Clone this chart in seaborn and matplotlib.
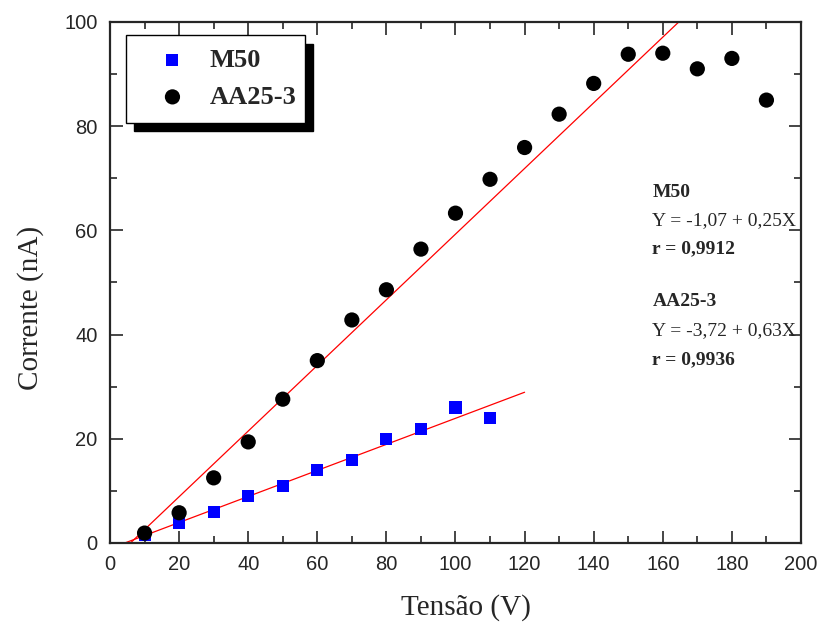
import matplotlib
matplotlib.use("Agg")
import matplotlib.pyplot as plt
from matplotlib.patches import Rectangle
from matplotlib.ticker import MultipleLocator
import numpy as np
import pandas as pd
import seaborn as sns

# Measured current vs. applied voltage for two samples
tensao_m50 = [10, 20, 30, 40, 50, 60, 70, 80, 90, 100, 110]
corrente_m50 = [1.5, 3.9, 6.0, 9.0, 11.0, 14.0, 15.9, 20.0, 21.9, 26.0, 23.9]

tensao_aa25 = [10, 20, 30, 40, 50, 60, 70, 80, 90, 100, 110, 120, 130, 140,
               150, 160, 170, 180, 190]
corrente_aa25 = [1.9, 5.8, 12.5, 19.4, 27.6, 35.0, 42.8, 48.6, 56.4, 63.3,
                 69.8, 75.9, 82.3, 88.2, 93.8, 94.0, 91.0, 93.0, 85.0]

# Linear fits (intercept, slope) and correlation coefficients
fit_m50 = (-1.07, 0.25)
fit_aa25 = (-3.72, 0.63)
r_m50 = "0,9912"
r_aa25 = "0,9936"
fit_range_m50 = (0, 120)
fit_range_aa25 = (0, 170)

sns.set_style("ticks")
plt.rcParams["font.family"] = ["Liberation Serif", "DejaVu Serif"]

fig = plt.figure(figsize=(8.26, 6.27), dpi=100)
ax = fig.add_axes([0.1332, 0.134, 0.8365, 0.831])

df_m50 = pd.DataFrame({"Tensão": tensao_m50, "Corrente": corrente_m50})
df_aa25 = pd.DataFrame({"Tensão": tensao_aa25, "Corrente": corrente_aa25})

sns.scatterplot(data=df_m50, x="Tensão", y="Corrente", marker="s", s=75,
                color="#0000ff", edgecolor="none", ax=ax, label="M50", zorder=3)
sns.scatterplot(data=df_aa25, x="Tensão", y="Corrente", marker="o", s=120,
                color="black", edgecolor="none", ax=ax, label="AA25-3", zorder=3)

for (b, a), (x0, x1) in [(fit_m50, fit_range_m50), (fit_aa25, fit_range_aa25)]:
    xs = np.array([x0, x1])
    sns.lineplot(x=xs, y=b + a * xs, color="red", linewidth=0.9, ax=ax,
                 zorder=2, legend=False)

ax.set_xlim(0, 200)
ax.set_ylim(0, 100)
ax.xaxis.set_major_locator(MultipleLocator(20))
ax.xaxis.set_minor_locator(MultipleLocator(10))
ax.yaxis.set_major_locator(MultipleLocator(20))
ax.yaxis.set_minor_locator(MultipleLocator(10))
ax.tick_params(which="both", direction="in", top=True, right=True,
               width=1.2, labelsize=14.5, pad=9)
ax.tick_params(which="major", length=9)
ax.tick_params(which="minor", length=5)
for lbl in ax.get_xticklabels() + ax.get_yticklabels():
    lbl.set_family(["Liberation Sans", "DejaVu Sans"])
for sp in ax.spines.values():
    sp.set_linewidth(1.6)

ax.set_xlabel("Tensão (V)", fontsize=21)
ax.set_ylabel("Corrente (nA)", fontsize=21)
ax.xaxis.set_label_coords(0.515, -0.098)
ax.yaxis.set_label_coords(-0.096, 0.451)

# Legend box with a solid drop shadow
lx, ly, lw, lh = 0.023, 0.807, 0.259, 0.168
ax.add_patch(Rectangle((lx + 0.012, ly - 0.017), lw, lh, transform=ax.transAxes,
                       facecolor="black", edgecolor="black", zorder=4,
                       clip_on=False))
ax.add_patch(Rectangle((lx, ly), lw, lh, transform=ax.transAxes,
                       facecolor="white", edgecolor="black", linewidth=1.0,
                       zorder=5, clip_on=False))
leg = ax.legend(loc="center", bbox_to_anchor=(lx + 0.014, ly, lw, lh),
                frameon=False, prop={"weight": "bold", "size": 19},
                handletextpad=0.7, labelspacing=0.5, markerscale=1.0,
                handlelength=1.4)
leg.set_zorder(6)

# Fit results
tx = 0.785
txt_kw = dict(transform=ax.transAxes, fontsize=14, va="center", ha="left")
ax.text(tx, (543 - 193) / 521, "M50", fontweight="bold", **txt_kw)
ax.text(tx, (543 - 221) / 521,
        f"Y = {fit_m50[0]:.2f} + {fit_m50[1]:.2f}X".replace(".", ","), **txt_kw)
ax.text(tx, (543 - 249) / 521, f"r = {r_m50}", fontweight="bold", **txt_kw)
ax.text(tx, (543 - 302) / 521, "AA25-3", fontweight="bold", **txt_kw)
ax.text(tx, (543 - 331) / 521,
        f"Y = {fit_aa25[0]:.2f} + {fit_aa25[1]:.2f}X".replace(".", ","), **txt_kw)
ax.text(tx, (543 - 360) / 521, f"r = {r_aa25}", fontweight="bold", **txt_kw)

fig.savefig("out.png", dpi=100)
